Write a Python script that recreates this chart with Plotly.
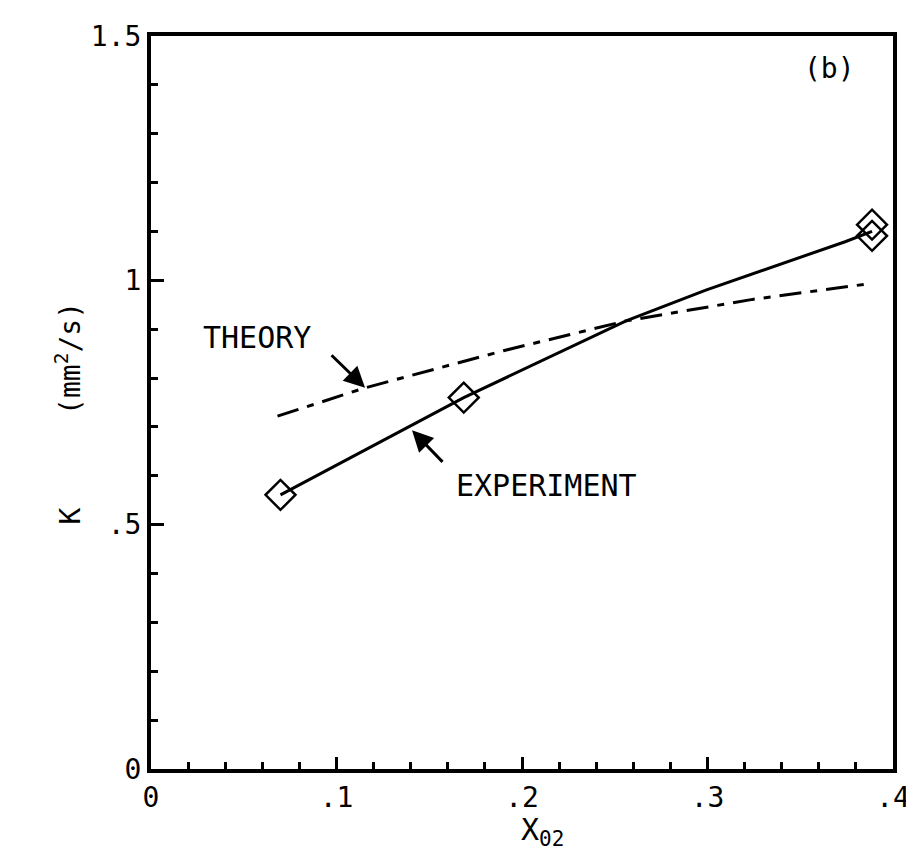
import plotly.graph_objects as go

# Experimental data points (diamonds)
exp_pts_x = [0.0698, 0.1686, 0.3887, 0.3887]
exp_pts_y = [0.561, 0.760, 1.091, 1.114]

# Experiment curve (solid)
exp_curve_x = [0.0698, 0.1686, 0.2561, 0.2991, 0.3742, 0.3887]
exp_curve_y = [0.561, 0.760, 0.917, 0.980, 1.079, 1.100]

# Theory curve (dash-dot)
theory_x = [0.0682, 0.1154, 0.190, 0.2561, 0.3243, 0.385]
theory_y = [0.722, 0.780, 0.856, 0.917, 0.961, 0.992]

x_tickvals = [0, 0.1, 0.2, 0.3, 0.4]
x_ticktext = ["0", ".1", ".2", ".3", ".4"]
y_tickvals = [0, 0.5, 1.0, 1.5]
y_ticktext = ["0", ".5", "1", "1.5"]

FONT = "DejaVu Sans Mono"

fig = go.Figure()
fig.add_trace(go.Scatter(x=theory_x, y=theory_y, mode="lines",
                         line=dict(color="black", width=3, dash="22px,9px,7px,9px"),
                         showlegend=False))
fig.add_trace(go.Scatter(x=exp_curve_x, y=exp_curve_y, mode="lines",
                         line=dict(color="black", width=3), showlegend=False))
fig.add_trace(go.Scatter(x=exp_pts_x, y=exp_pts_y, mode="markers",
                         marker=dict(symbol="diamond-open", size=23, color="black",
                                     line=dict(width=2.5, color="black")),
                         showlegend=False))

axis_common = dict(showline=True, linecolor="black", linewidth=4, mirror=True,
                   showgrid=False, zeroline=False, ticks="inside", tickcolor="black",
                   tickwidth=3, tickfont=dict(family=FONT, size=28, color="black"))

fig.update_xaxes(range=[0, 0.4], tickvals=x_tickvals, ticktext=x_ticktext, ticklen=12,
                 minor=dict(dtick=0.02, ticks="inside", ticklen=7, tickwidth=3, tickcolor="black"),
                 **axis_common)
fig.update_yaxes(range=[0, 1.5], tickvals=y_tickvals, ticktext=y_ticktext, ticklen=13,
                 minor=dict(dtick=0.1, ticks="inside", ticklen=7, tickwidth=3, tickcolor="black"),
                 **axis_common)

annots = [
    dict(x=0.0574, y=0.884, xref="x", yref="y", text="THEORY", showarrow=False,
         font=dict(family=FONT, size=30, color="black")),
    dict(x=0.2131, y=0.581, xref="x", yref="y", text="EXPERIMENT", showarrow=False,
         font=dict(family=FONT, size=30, color="black")),
    dict(x=0.366, y=1.433, xref="x", yref="y", text="(b)", showarrow=False,
         font=dict(family=FONT, size=28, color="black")),
    # arrows
    dict(x=0.1154, y=0.780, xref="x", yref="y", ax=-35, ay=-34, text="", showarrow=True,
         arrowhead=2, arrowsize=1.4, arrowwidth=3, arrowcolor="black"),
    dict(x=0.1407, y=0.693, xref="x", yref="y", ax=32, ay=33, text="", showarrow=True,
         arrowhead=2, arrowsize=1.4, arrowwidth=3, arrowcolor="black"),
    # axis titles
    dict(x=0.5275, y=-0.114, xref="paper", yref="paper", text="X<sub>02</sub>",
         showarrow=False, font=dict(family=FONT, size=30, color="black")),
    dict(x=-0.133, y=0.3455, xref="paper", yref="paper", text="K", textangle=-90,
         showarrow=False, font=dict(family=FONT, size=28, color="black")),
    dict(x=-0.138, y=0.5596, xref="paper", yref="paper", text="(mm<sup>2</sup>/s)",
         textangle=-90, showarrow=False, font=dict(family=FONT, size=28, color="black")),
]

fig.update_layout(width=914, height=863, paper_bgcolor="white", plot_bgcolor="white",
                  margin=dict(l=143, r=26, t=23, b=102), annotations=annots)

fig.write_html("out.html")
